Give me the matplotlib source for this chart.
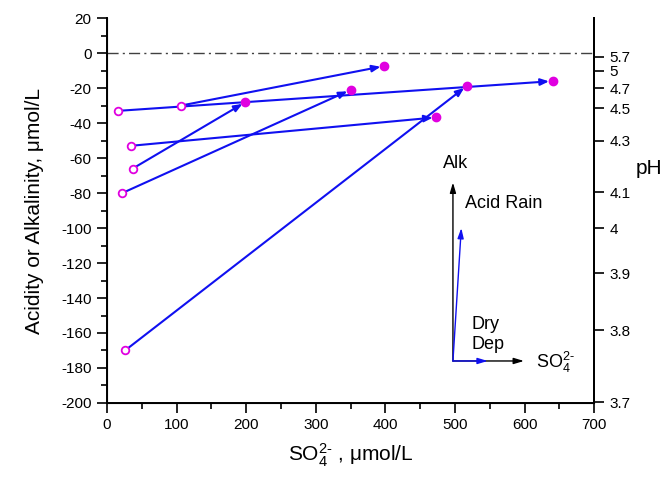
import numpy as np
import matplotlib
matplotlib.use("Agg")
import matplotlib.pyplot as plt
from matplotlib.ticker import MultipleLocator

plt.rcParams['font.family'] = ['Liberation Sans', 'DejaVu Sans']
plt.rcParams['mathtext.fontset'] = 'custom'
plt.rcParams['mathtext.rm'] = 'Liberation Sans'
plt.rcParams['mathtext.it'] = 'Liberation Sans:italic'
plt.rcParams['mathtext.default'] = 'regular'
plt.rcParams['axes.unicode_minus'] = False

# start points (open circles) and end points (filled circles), umol/L
so4_start = [16, 106, 34, 37, 22, 26]
alk_start = [-33, -30, -53, -66, -80, -170]
so4_end = [640, 398, 473, 199, 350, 517]
alk_end = [-16, -7.4, -36.7, -28, -21, -18.7]

# right axis pH labels
ph_labels = ['5.7', '5', '4.7', '4.5', '4.3', '4.1', '4', '3.9', '3.8', '3.7']
ph_values = [5.7, 5.0, 4.7, 4.5, 4.3, 4.1, 4.0, 3.9, 3.8, 3.7]

# vector diagram (data coords)
vec_origin = (497, -176)
vec_alk_top = -74
vec_so4_end = 599
vec_acid_rain = (509, -100)
vec_dry_dep = 547

blue = '#1010f0'
mag = '#e000e0'
so4_tex = 'SO$_4^{2\u2010}$'

fig = plt.figure(figsize=(6.64, 4.78), dpi=100)
ax = fig.add_axes([0.161, 0.157, 0.734, 0.805])

ax.axhline(0, color='#404040', lw=1.0, linestyle=(0, (8, 3, 1.5, 3)), zorder=1)

for xs, ys, xe, ye in zip(so4_start, alk_start, so4_end, alk_end):
    ax.annotate('', xy=(xe, ye), xytext=(xs, ys),
                arrowprops=dict(arrowstyle='-|>,head_length=0.5,head_width=0.2',
                                color=blue, lw=1.5, shrinkA=3, shrinkB=2.5))

ax.plot(so4_start, alk_start, 'o', mfc='white', mec=mag, mew=1.3, ms=5.5, zorder=5)
ax.plot(so4_end, alk_end, 'o', color=mag, ms=6, zorder=5)

# vector legend
ox, oy = vec_origin
ax.annotate('', xy=(ox, vec_alk_top), xytext=(ox, oy),
            arrowprops=dict(arrowstyle='-|>,head_length=0.6,head_width=0.18',
                            color='black', lw=1.0, shrinkA=0, shrinkB=0))
ax.annotate('', xy=(vec_so4_end, oy), xytext=(ox, oy),
            arrowprops=dict(arrowstyle='-|>,head_length=0.6,head_width=0.18',
                            color='black', lw=1.0, shrinkA=0, shrinkB=0))
ax.annotate('', xy=vec_acid_rain, xytext=(ox, oy),
            arrowprops=dict(arrowstyle='-|>,head_length=0.6,head_width=0.18',
                            color=blue, lw=1.0, shrinkA=0, shrinkB=0))
ax.annotate('', xy=(vec_dry_dep, oy), xytext=(ox, oy),
            arrowprops=dict(arrowstyle='-|>,head_length=0.6,head_width=0.18',
                            color=blue, lw=1.0, shrinkA=0, shrinkB=0))
ax.text(483, -63, 'Alk', fontsize=13, va='center', ha='left')
ax.text(515, -86, 'Acid Rain', fontsize=13, va='center', ha='left')
ax.text(524, -161, 'Dry\nDep', fontsize=13, va='center', ha='left', linespacing=1.2)
ax.text(616, -177, so4_tex, fontsize=13, va='center', ha='left')

ax.set_xlim(0, 700)
ax.set_ylim(-200, 20)
ax.xaxis.set_major_locator(MultipleLocator(100))
ax.xaxis.set_minor_locator(MultipleLocator(50))
ax.yaxis.set_major_locator(MultipleLocator(20))
ax.yaxis.set_minor_locator(MultipleLocator(10))
ax.tick_params(which='major', direction='out', length=7.5, width=1.2, labelsize=11)
ax.tick_params(which='minor', direction='out', length=4, width=1.2)
ax.spines['top'].set_visible(False)
for s in ['left', 'bottom', 'right']:
    ax.spines[s].set_linewidth(1.4)

ax.set_xlabel(so4_tex + ' , \u03bcmol/L', fontsize=15, labelpad=7)
ax.set_ylabel('Acidity or Alkalinity, \u03bcmol/L', fontsize=15, labelpad=12)

ax2 = ax.twinx()
ax2.set_ylim(-200, 20)
ax2.set_yticks([-10 ** (6 - p) for p in ph_values])
ax2.set_yticklabels(ph_labels)
ax2.tick_params(direction='out', length=7.5, width=1.2, labelsize=11)
ax2.spines['top'].set_visible(False)
ax2.spines['right'].set_linewidth(1.4)
ax2.set_ylabel('pH', fontsize=15, rotation=0, va='center', ha='center')
ax2.yaxis.set_label_coords(1.112, 0.61)

fig.savefig('out.png', dpi=100)
